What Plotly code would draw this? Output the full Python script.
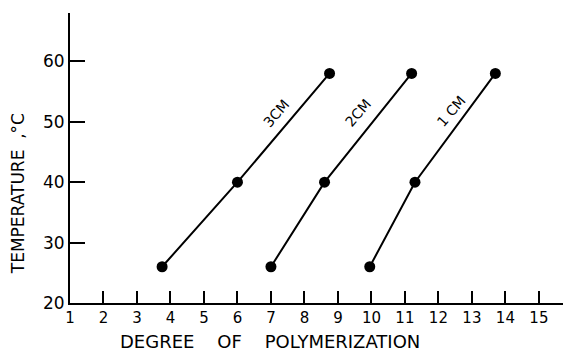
import plotly.graph_objects as go

# Data
series_names = ["3CM", "2CM", "1 CM"]
temps = [26, 40, 58]
dp_3cm = [3.75, 6.0, 8.75]
dp_2cm = [7.0, 8.6, 11.2]
dp_1cm = [9.95, 11.3, 13.7]

x_ticks = list(range(1, 16))
y_ticks = [20, 30, 40, 50, 60]

x_title = "DEGREE    OF    POLYMERIZATION"
y_title = "TEMPERATURE  ,°C"

# label anchor points (data coords) for the line labels
label_x = [7.17, 9.6, 12.39]
label_y = [51.4, 51.4, 51.7]

fig = go.Figure()
for name, xs in zip(series_names, [dp_3cm, dp_2cm, dp_1cm]):
    fig.add_trace(go.Scatter(
        x=xs, y=temps, mode="lines+markers", name=name,
        line=dict(color="black", width=2),
        marker=dict(color="black", size=11),
        showlegend=False,
    ))

for name, lx, ly in zip(series_names, label_x, label_y):
    fig.add_annotation(x=lx, y=ly, text=name, showarrow=False, textangle=-49,
                       font=dict(family="DejaVu Sans", size=14, color="black"))

fig.add_annotation(xref="paper", yref="paper", x=(270 - 70) / 493, y=(302.7 - 341) / 289.7,
                   text=x_title, showarrow=False, xanchor="center", yanchor="middle",
                   font=dict(family="DejaVu Sans", size=18, color="black"))
fig.add_annotation(xref="paper", yref="paper", x=(18 - 70) / 493, y=(302.7 - 194) / 289.7,
                   text=y_title, showarrow=False, textangle=-90, xanchor="center", yanchor="middle",
                   font=dict(family="DejaVu Sans", size=17, color="black"))

font = dict(family="DejaVu Sans", color="black")
fig.update_layout(
    width=567, height=353,
    margin=dict(l=70, r=4, t=13, b=50),
    paper_bgcolor="white", plot_bgcolor="white",
    font=font,
    xaxis=dict(
        range=[1, 15.72], tickvals=x_ticks, ticktext=[str(v) for v in x_ticks],
        ticks="inside", ticklen=12, tickwidth=2, tickcolor="black",
        showline=True, linecolor="black", linewidth=2,
        showgrid=False, zeroline=False,
        tickfont=dict(size=15, family="DejaVu Sans", color="black"),
    ),
    yaxis=dict(
        range=[20, 68], tickvals=y_ticks, ticktext=[str(v) for v in y_ticks],
        ticks="inside", ticklen=15, tickwidth=2, tickcolor="black",
        showline=True, linecolor="black", linewidth=2,
        showgrid=False, zeroline=False,
        tickfont=dict(size=17, family="DejaVu Sans", color="black"),
    ),
)

fig.write_html("out.html")
